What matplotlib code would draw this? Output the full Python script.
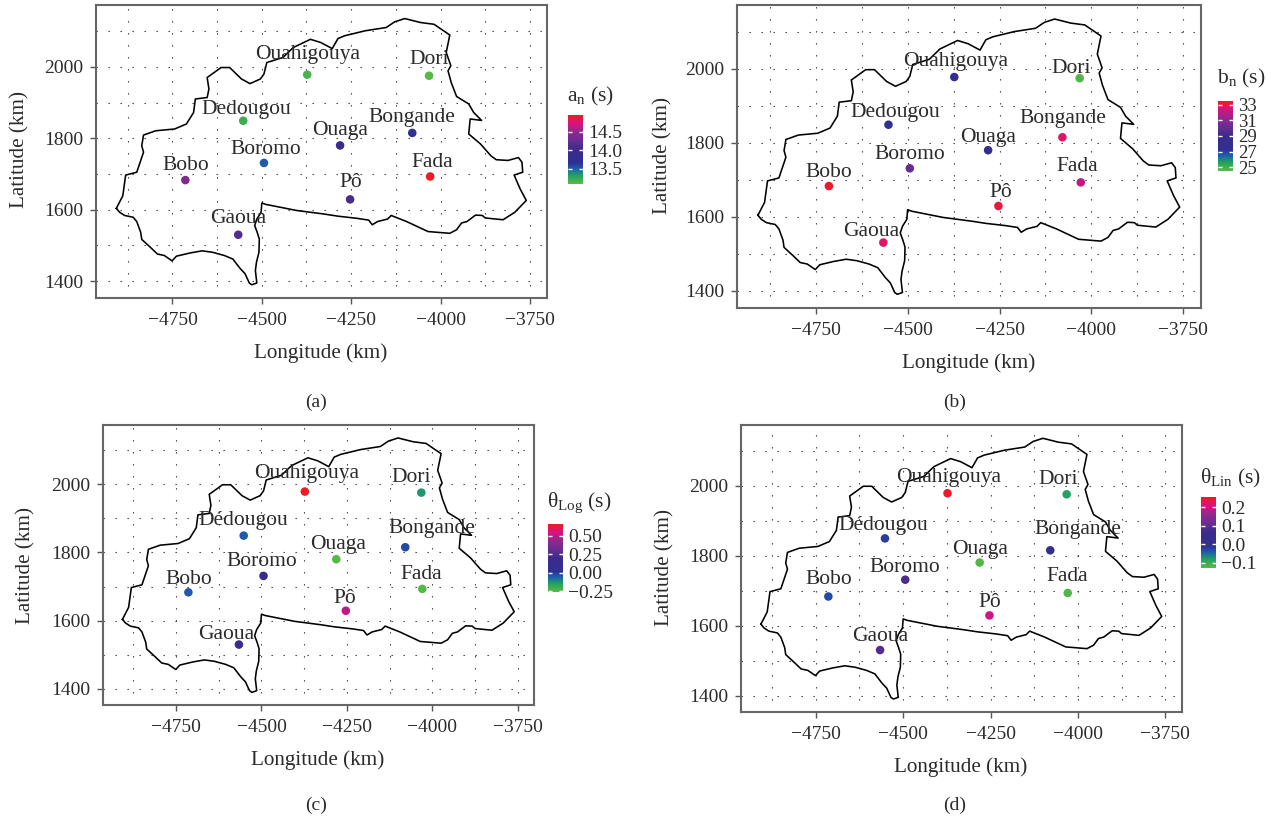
import matplotlib
matplotlib.use('Agg')
import matplotlib.pyplot as plt
from matplotlib.colors import LinearSegmentedColormap, Normalize
from matplotlib.cm import ScalarMappable

plt.rcParams['font.family'] = ['Liberation Serif', 'DejaVu Serif']
plt.rcParams['mathtext.fontset'] = 'custom'
plt.rcParams['mathtext.rm'] = 'Liberation Serif'
plt.rcParams['axes.unicode_minus'] = True

W, H = 1271, 818
TXT = '#2b2b2b'

# stations
cities = ['Ouahigouya', 'Dori', 'Dedougou', 'Bongande', 'Ouaga', 'Boromo', 'Fada', 'Bobo', 'Pô', 'Gaoua']
city_lon = [-4373, -4032, -4552, -4079, -4281, -4494, -4029, -4714, -4253, -4566]
city_lat = [1978, 1975, 1849, 1815, 1780, 1731, 1693, 1683, 1629, 1530]

# values per panel
an_vals = [13.15, 13.1, 13.22, 13.72, 14.02, 13.52, 14.95, 14.42, 14.1, 14.15]
bn_vals = [28.0, 24.7, 27.5, 32.7, 28.0, 30.0, 32.1, 33.4, 33.2, 32.7]
log_vals = [0.66, -0.13, -0.05, -0.03, -0.25, 0.2, -0.25, -0.05, 0.5, 0.2]
lin_vals = [0.25, -0.08, -0.02, 0.0, -0.12, 0.08, -0.12, -0.03, 0.2, 0.09]

an_ticks = [13.5, 14.0, 14.5]
bn_ticks = [25, 27, 29, 31, 33]
log_ticks = [-0.25, 0.0, 0.25, 0.5]
lin_ticks = [-0.1, 0.0, 0.1, 0.2]

# country border
border_lon = [-4907, -4898, -4884, -4860, -4850, -4839, -4836, -4812, -4792, -4773, -4751, -4739, -4701, -4667, -4638,
              -4605, -4581, -4561, -4547, -4535, -4528, -4514, -4518, -4515, -4508, -4507, -4513, -4520, -4514, -4502,
              -4500, -4489, -4403, -4326, -4287, -4234, -4201, -4191, -4176, -4148, -4138, -4095, -4035, -3974, -3955,
              -3941, -3926, -3902, -3883, -3875, -3825, -3792, -3760, -3777, -3794, -3770, -3772, -3782, -3811, -3844,
              -3859, -3888, -3921, -3917, -3885, -3907, -3921, -3955, -3970, -3979, -3971, -3984, -3974, -4018, -4056,
              -4100, -4128, -4152, -4210, -4268, -4287, -4303, -4335, -4364, -4412, -4441, -4470, -4486, -4494, -4504,
              -4533, -4557, -4590, -4614, -4653, -4648, -4653, -4686, -4691, -4711, -4744, -4797, -4831, -4836, -4831,
              -4850, -4881, -4889, -4907]
border_lat = [1604, 1593, 1584, 1579, 1567, 1537, 1517, 1495, 1476, 1472, 1457, 1470, 1479, 1485, 1481,
              1472, 1462, 1436, 1421, 1395, 1390, 1395, 1430, 1453, 1481, 1518, 1537, 1556, 1574, 1593,
              1619, 1615, 1598, 1588, 1582, 1576, 1571, 1558, 1567, 1574, 1584, 1567, 1539, 1534, 1544,
              1563, 1567, 1585, 1584, 1577, 1572, 1593, 1626, 1658, 1697, 1705, 1733, 1746, 1738, 1740,
              1751, 1784, 1812, 1854, 1850, 1872, 1896, 1917, 1956, 1989, 2003, 2040, 2089, 2119, 2124,
              2135, 2126, 2110, 2101, 2087, 2079, 2051, 2068, 2077, 2054, 2026, 2017, 2012, 1980, 1966,
              1953, 1966, 1998, 1998, 1970, 1938, 1914, 1910, 1872, 1840, 1826, 1821, 1809, 1779, 1761,
              1705, 1697, 1639, 1604]

x_major = [-4750, -4500, -4250, -4000, -3750]
x_minor = [-4875, -4625, -4375, -4125, -3875]
y_major = [1400, 1600, 1800, 2000]
y_minor = [1500, 1700, 1900, 2100]

cmap = LinearSegmentedColormap.from_list('bf', [
    (0.0, '#5ab946'), (0.12, '#22a35f'), (0.22, '#1c5fae'), (0.3, '#2e3192'),
    (0.5, '#3b2a8c'), (0.62, '#662d91'), (0.76, '#93278f'), (0.88, '#d9127e'), (1.0, '#ed1c24')])


def px_axes(l, t, r, b):
    return [l / W, 1 - b / H, (r - l) / W, (b - t) / H]


def panel(box, vals, vmin, vmax, label_off, names, xl, yl, sub, cb_box, cb_ticks, cb_fmt, cb_title, title_xy, cb_size=14):
    ax = fig.add_axes(px_axes(*box))
    ax.set_xlim(-4964, -3702)
    ax.set_ylim(1353, 2173)
    ax.set_xticks(x_major)
    ax.set_yticks(y_major)
    ax.set_xticks(x_minor, minor=True)
    ax.set_yticks(y_minor, minor=True)
    ax.set_xticklabels([f'\u2212{abs(v)}' for v in x_major])
    ax.tick_params(which='major', length=4, width=1, color='#555555', labelsize=14, labelcolor=TXT, pad=6)
    ax.tick_params(axis='y', which='major', pad=5)
    ax.tick_params(which='minor', length=0)
    ax.grid(True, which='both', color='#333333', lw=0.8, linestyle=(0, (1.2, 9.6)))
    ax.set_axisbelow(True)
    for s in ax.spines.values():
        s.set_color('#666666')
        s.set_linewidth(1.5)
    ax.plot(border_lon, border_lat, color='black', lw=1.15)
    norm = Normalize(vmin, vmax)
    ax.scatter(city_lon, city_lat, c=vals, cmap=cmap, norm=norm, s=38, zorder=3, linewidths=0)
    for i, name in enumerate(names):
        dx, dy = label_off[i]
        ax.annotate(name, (city_lon[i], city_lat[i]), xytext=(dx * 0.72, (dy - 2.5) * 0.72), textcoords='offset points',
                    ha='center', va='center', fontsize=15.5, color=TXT, zorder=4)
    fig.text((xl[0]) / W, 1 - (xl[1] + 2) / H, 'Longitude (km)', ha='center', va='center', fontsize=15.2, color=TXT)
    fig.text((yl[0] + 3) / W, 1 - yl[1] / H, 'Latitude (km)', ha='center', va='center', rotation=90, fontsize=15.2, color=TXT)
    fig.text(sub[0] / W, 1 - (sub[1] + 2) / H, sub[2], ha='center', va='center', fontsize=14, color=TXT)

    cax = fig.add_axes(px_axes(*cb_box))
    cb = fig.colorbar(ScalarMappable(norm=norm, cmap=cmap), cax=cax, ticks=cb_ticks)
    cb.outline.set_visible(False)
    cb.ax.set_yticklabels([cb_fmt(v) for v in cb_ticks])
    cb.ax.tick_params(direction='in', color='white', length=3, width=1, left=True, right=True,
                      labelsize=cb_size, labelcolor=TXT, pad=3.5)
    fig.text(title_xy[0] / W, 1 - title_xy[1] / H, cb_title, ha='left', va='center', fontsize=15.5, color=TXT)


def signed(fmt):
    def f(v):
        s = format(abs(v), fmt)
        return ('\u2212' + s) if v < 0 else s
    return f


fig = plt.figure(figsize=(W / 100, H / 100), dpi=100)

names_c = [n.replace('Dedougou', 'Dédougou') for n in cities]

panel((96, 5, 547, 298), an_vals, 13.09, 14.96,
      [(0, 23), (0, 19), (3, 14), (0, 18), (0, 17), (2, 16), (2, 17), (0, 17), (1, 19), (0, 19)], cities,
      (321, 351), (17, 150), (316, 400, '(a)'),
      (568, 115, 583, 184), an_ticks, signed('.1f'), 'a$_{\\mathrm{n}}$ (s)', (567, 96))
panel((737, 5, 1201, 308), bn_vals, 24.5, 33.5,
      [(1, 18), (-8, 12), (7, 15), (0, 21), (0, 15), (0, 16), (-4, 18), (0, 16), (2, 16), (-12, 14)], cities,
      (969, 361), (660, 155), (955, 400, '(b)'),
      (1218, 101, 1233, 171), bn_ticks, signed('.0f'), 'b$_{\\mathrm{n}}$ (s)', (1217, 78), cb_size=13.5)
panel((103, 425, 534, 705), log_vals, -0.26, 0.66,
      [(2, 21), (-10, 18), (0, 18), (27, 21), (2, 17), (-2, 17), (-1, 17), (0, 15), (-1, 15), (-13, 13)], names_c,
      (318, 758), (23, 565), (316, 803, '(c)'),
      (548, 524, 563, 592), log_ticks, signed('.2f'), 'θ$_{\\mathrm{Log}}$ (s)', (547, 503))
panel((741, 425, 1182, 712), lin_vals, -0.127, 0.254,
      [(1, 18), (-8, 17), (-2, 15), (28, 23), (0, 16), (0, 15), (0, 19), (0, 20), (0, 15), (0, 16)], names_c,
      (961, 765), (662, 568), (955, 803, '(d)'),
      (1201, 497, 1216, 568), lin_ticks, signed('.1f'), 'θ$_{\\mathrm{Lin}}$ (s)', (1200, 478))

fig.savefig('out.png', dpi=100)
